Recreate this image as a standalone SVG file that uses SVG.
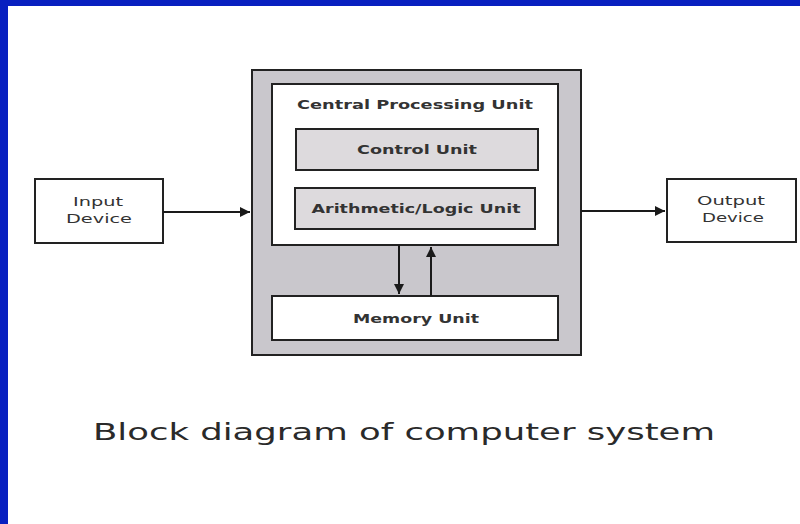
<svg xmlns="http://www.w3.org/2000/svg" width="800" height="524" viewBox="0 0 800 524">
  <defs>
    <marker id="ah" viewBox="0 0 10 10" refX="10" refY="5" markerWidth="10" markerHeight="10" markerUnits="userSpaceOnUse" orient="auto">
      <path d="M0,0 L10,5 L0,10 Z" fill="#1a1a1a"/>
    </marker>
    <marker id="ahv" viewBox="0 0 10 10" refX="10" refY="5" markerWidth="10" markerHeight="14" markerUnits="userSpaceOnUse" orient="auto">
      <path d="M0,0 L10,5 L0,10 Z" fill="#1a1a1a"/>
    </marker>
  </defs>
  <style>
    .box { stroke: #222; stroke-width: 2; }
    .lbl { font-family: "DejaVu Sans", Verdana, sans-serif; font-weight: bold; font-size: 12.5px; fill: #333; text-anchor: middle; }
    .dev { font-family: "DejaVu Sans", Verdana, sans-serif; font-size: 12px; fill: #333; text-anchor: middle; }
    .conn { stroke: #1a1a1a; stroke-width: 2; fill: none; }
    .title { font-family: "DejaVu Sans", Verdana, sans-serif; font-size: 23px; fill: #2a2a2a; }
  </style>
  <rect x="0" y="0" width="800" height="524" fill="#ffffff"/>
  <rect x="0" y="0" width="800" height="6" fill="#0820c0"/>
  <rect x="0" y="0" width="8" height="524" fill="#0820c0"/>

  <g id="computer">
    <rect class="box" x="252" y="70" width="329" height="285" fill="#c9c7cc"/>
  </g>
  <g id="cpu">
    <rect class="box" x="272" y="84" width="286" height="161" fill="#ffffff"/>
    <text class="lbl" x="415" y="109" textLength="236" lengthAdjust="spacingAndGlyphs">Central Processing Unit</text>
  </g>
  <g id="control-unit">
    <rect class="box" x="296" y="129" width="242" height="41" fill="#dddadd"/>
    <text class="lbl" x="417" y="154" textLength="120" lengthAdjust="spacingAndGlyphs">Control Unit</text>
  </g>
  <g id="alu">
    <rect class="box" x="295" y="188" width="240" height="41" fill="#dddadd"/>
    <text class="lbl" x="416" y="213" textLength="209" lengthAdjust="spacingAndGlyphs">Arithmetic/Logic Unit</text>
  </g>
  <g id="memory-unit">
    <rect class="box" x="272" y="296" width="286" height="44" fill="#ffffff"/>
    <text class="lbl" x="416" y="323" textLength="126" lengthAdjust="spacingAndGlyphs">Memory Unit</text>
  </g>
  <g id="input-device">
    <rect class="box" x="35" y="179" width="128" height="64" fill="#ffffff"/>
    <text class="dev" x="98" y="206" textLength="50" lengthAdjust="spacingAndGlyphs">Input</text>
    <text class="dev" x="99" y="223" textLength="66" lengthAdjust="spacingAndGlyphs">Device</text>
  </g>
  <g id="output-device">
    <rect class="box" x="667" y="179" width="129" height="63" fill="#ffffff"/>
    <text class="dev" x="731" y="205" textLength="68" lengthAdjust="spacingAndGlyphs">Output</text>
    <text class="dev" x="733" y="222" textLength="62" lengthAdjust="spacingAndGlyphs">Device</text>
  </g>

  <g id="connectors">
    <line class="conn" x1="163" y1="212" x2="250" y2="212" marker-end="url(#ah)"/>
    <line class="conn" x1="581" y1="211" x2="665" y2="211" marker-end="url(#ah)"/>
    <line class="conn" x1="399" y1="245" x2="399" y2="294" marker-end="url(#ahv)"/>
    <line class="conn" x1="431" y1="296" x2="431" y2="247" marker-end="url(#ahv)"/>
  </g>

  <text class="title" x="93" y="440" textLength="622" lengthAdjust="spacingAndGlyphs">Block diagram of computer system</text>
</svg>
